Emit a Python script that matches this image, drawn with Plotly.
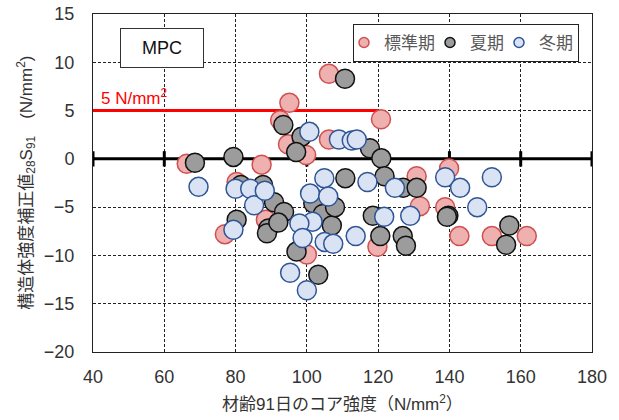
import plotly.graph_objects as go

# 標準期
std_x = [66.3, 77.0, 80.3, 87.3, 88.5, 92.5, 94.7, 95.1, 99.8, 100.0, 106.2, 106.2,
         119.8, 120.8, 130.8, 131.7, 138.8, 139.9, 142.8, 151.9, 161.7]
std_y = [-0.5, -7.8, -2.4, -0.6, -6.3, 4.0, 1.5, 5.8, 0.4, -9.9, 8.8, 2.0,
         -9.1, 4.1, -1.8, -4.9, -5.0, -1.0, -8.0, -8.0, -8.0]
# 夏期
sum_x = [68.6, 79.4, 80.3, 81.5, 87.7, 89.2, 88.8, 90.8, 93.6, 92.0, 93.4, 98.5,
         97.0, 97.1, 101.8, 103.2, 104.5, 107.0, 107.9, 110.7, 110.8, 117.7, 118.5,
         120.9, 121.8, 120.6, 127.0, 130.8, 126.9, 127.8, 139.7, 139.3, 156.8, 155.9]
sum_y = [-0.4, 0.2, -6.3, -2.7, -2.7, -7.2, -7.7, -4.5, -5.5, -6.6, 3.5, 2.3,
         0.7, -9.6, -4.6, -12.0, -5.7, -6.9, -5.0, 8.3, -2.0, 1.1, -5.9,
         0.05, -1.8, -8.0, -3.0, -3.0, -8.0, -9.0, -5.9, -6.0, -6.9, -8.9]
# 冬期
win_x = [69.6, 80.0, 79.4, 84.1, 85.2, 88.2, 100.7, 109.0, 112.6, 114.0, 104.9,
         100.9, 106.0, 101.6, 97.9, 98.8, 105.0, 107.4, 113.7, 95.3, 100.0, 117.0,
         124.7, 121.7, 129.0, 138.8, 143.0, 151.9, 147.8]
win_y = [-2.9, -3.1, -7.35, -3.1, -4.8, -3.3, 2.8, 2.0, 1.9, 2.0, -2.0,
         -3.6, -3.9, -6.5, -6.7, -8.2, -8.6, -8.8, -8.0, -11.8, -13.6, -2.4,
         -3.0, -6.0, -5.9, -1.9, -3.0, -1.9, -5.0]

limit_x = [40, 120]
limit_y = [5, 5]
x_ticks = [40, 60, 80, 100, 120, 140, 160, 180]
y_ticks = [15, 10, 5, 0, -5, -10, -15, -20]

FONT = "Liberation Sans, Arial, Noto Sans CJK JP, sans-serif"
MS = 19

fig = go.Figure()

fig.add_trace(go.Scatter(x=limit_x, y=limit_y, mode="lines",
                         line=dict(color="#ff0000", width=3), showlegend=False, hoverinfo="skip"))
fig.add_trace(go.Scatter(x=[x_ticks[0], x_ticks[-1]], y=[0, 0], mode="lines",
                         line=dict(color="black", width=3), showlegend=False, hoverinfo="skip"))
fig.add_trace(go.Scatter(x=x_ticks, y=[0] * len(x_ticks), mode="markers",
                         marker=dict(symbol="line-ns", size=11, line=dict(color="black", width=3)),
                         showlegend=False, hoverinfo="skip"))

series = [
    ("標準期", std_x, std_y, "#efb0b0", "#d05050"),
    ("夏期", sum_x, sum_y, "#9c9c9c", "#111111"),
    ("冬期", win_x, win_y, "#dae3f3", "#2f5597"),
]
for name, xs, ys, fill, edge in series:
    fig.add_trace(go.Scatter(x=xs, y=ys, mode="markers", name=name, showlegend=False,
                             marker=dict(size=MS, color=fill, line=dict(color=edge, width=1.5))))
for name, xs, ys, fill, edge in series:
    fig.add_trace(go.Scatter(x=[None], y=[None], mode="markers", name=name,
                             marker=dict(size=10, color=fill, line=dict(color=edge, width=1.5))))

fig.update_layout(
    width=619, height=420,
    margin=dict(l=93, r=27, t=14, b=68),
    plot_bgcolor="white", paper_bgcolor="white",
    font=dict(family=FONT, size=18, color="#333333"),
    showlegend=True,
    legend=dict(orientation="h", x=(579 - 93) / 499, y=1 - (24 - 14) / 338,
                xanchor="right", yanchor="top",
                bgcolor="white", bordercolor="#222222", borderwidth=1,
                font=dict(size=17, color="#595959"), itemsizing="trace",
                tracegroupgap=0, itemwidth=30, indentation=-10),
    xaxis=dict(range=[40, 180], tickvals=x_ticks, showgrid=True, gridcolor="#222222",
               griddash="3px,2px", gridwidth=1, zeroline=False, showline=True,
               linecolor="#222222", linewidth=1, mirror=True, ticks="",
               ticklabelstandoff=8, tickfont=dict(size=18, color="#333333"),
               automargin=False),
    yaxis=dict(range=[-20, 15], tickvals=y_ticks, showgrid=True, gridcolor="#222222",
               griddash="3px,2px", gridwidth=1, zeroline=False, showline=True,
               linecolor="#222222", linewidth=1, mirror=True, ticks="",
               ticklabelstandoff=14, tickfont=dict(size=18, color="#333333"),
               automargin=False),
    annotations=[
        dict(text="MPC", xref="paper", yref="paper", x=(162 - 93) / 499, y=1 - (48 - 14) / 338,
             xanchor="center", yanchor="middle", showarrow=False, width=80, height=36,
             bordercolor="#333333", borderwidth=1, bgcolor="white",
             font=dict(size=18, color="#111111")),
        dict(text="5 N/mm<sup>2</sup>", x=41.8, y=6.4, xanchor="left", yanchor="middle",
             showarrow=False, font=dict(size=17, color="#ff0000")),
        dict(text="材齢91日のコア強度（N/mm<sup>2</sup>）", xref="paper", yref="paper",
             x=0.5, y=-0.150, xanchor="center", yanchor="middle", showarrow=False,
             font=dict(size=17, color="#333333")),
        dict(text="構造体強度補正値<sub>28</sub>S<sub>91</sub>　(N/mm<sup>2</sup>)",
             xref="paper", yref="paper", x=-0.135, y=0.5, xanchor="center", yanchor="middle",
             textangle=-90, showarrow=False, font=dict(size=17, color="#333333")),
    ],
)

fig.write_html("out.html")
